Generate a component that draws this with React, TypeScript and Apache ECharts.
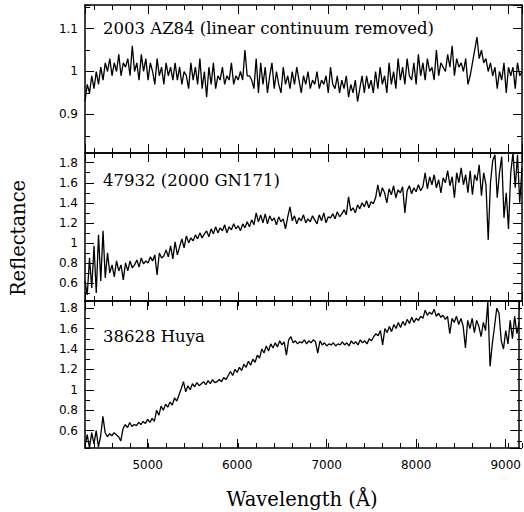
import React, { useEffect, useRef } from "react";
import * as echarts from "echarts";

// Wavelength grid (Å): first sample and spacing
const WL_START = 4300;
const WL_STEP = 25;
const X_MIN = 4300;
const X_MAX = 9150;

// 2003 AZ84 (linear continuum removed)
const az84 = [
  0.93, 0.97, 0.95, 0.99, 0.96, 1.00, 0.97, 1.01, 0.98, 1.02,
  1.00, 1.03, 0.99, 1.02, 1.00, 1.04, 0.99, 1.02, 1.01, 1.03,
  0.99, 1.06, 1.00, 1.02, 0.98, 1.04, 1.00, 1.03, 0.98, 1.02,
  1.00, 0.97, 1.03, 0.99, 1.01, 0.97, 1.02, 0.99, 1.01, 0.98,
  1.02, 0.98, 1.01, 0.97, 1.00, 0.99, 0.96, 1.02, 0.98, 1.01,
  0.97, 1.03, 0.96, 1.00, 0.94, 1.01, 0.97, 1.02, 0.96, 0.99,
  0.98, 1.01, 0.97, 0.99, 0.98, 1.02, 0.97, 0.99, 0.98, 1.00,
  0.98, 1.05, 0.99, 0.99, 0.98, 0.96, 1.03, 0.95, 1.02, 0.97,
  1.01, 0.95, 0.99, 1.02, 0.96, 1.00, 0.97, 0.95, 1.01, 0.97,
  0.99, 0.96, 1.00, 0.97, 1.01, 0.98, 0.95, 0.99, 0.97, 1.00,
  0.96, 0.98, 0.97, 1.00, 0.96, 0.98, 0.97, 0.99, 0.95, 1.01,
  0.97, 0.96, 0.99, 0.95, 0.98, 0.96, 0.99, 0.94, 0.97, 0.95,
  0.98, 0.93, 0.96, 0.99, 0.95, 0.99, 0.96, 0.98, 0.95, 1.00,
  0.96, 1.01, 0.97, 0.99, 0.95, 1.02, 0.97, 1.00, 0.96, 1.03,
  0.98, 1.01, 0.97, 1.03, 0.99, 0.98, 1.02, 0.97, 1.04, 0.99,
  1.02, 0.98, 1.03, 1.00, 1.01, 0.98, 1.05, 0.99, 1.02, 1.01,
  1.00, 1.04, 1.01, 1.06, 0.99, 1.03, 1.01, 1.02, 1.00, 1.03,
  0.97, 0.99, 1.02, 1.05, 1.08, 1.03, 1.05, 1.02, 1.03, 1.00,
  1.02, 0.99, 1.01, 0.96, 1.00, 0.98, 1.02, 0.95, 1.01, 0.99,
  1.01, 0.96, 1.02, 0.99, 1.00,
];

// 47932 (2000 GN171)
const gn171 = [
  0.62, 0.48, 0.85, 0.55, 0.97, 0.50, 1.08, 0.62, 1.12, 0.65,
  0.90, 0.70, 0.78, 0.66, 0.82, 0.72, 0.78, 0.63, 0.80, 0.72,
  0.82, 0.75, 0.78, 0.83, 0.76, 0.85, 0.79, 0.82, 0.80, 0.86,
  0.82, 0.88, 0.68, 0.90, 0.85, 0.87, 0.93, 0.86, 0.97, 0.84,
  1.01, 0.88, 0.96, 1.04, 0.95, 1.07, 1.00, 1.05, 1.02, 1.08,
  1.04, 1.10, 1.05, 1.09, 1.12, 1.06, 1.14, 1.09, 1.16, 1.10,
  1.15, 1.12, 1.18, 1.10, 1.16, 1.13, 1.19, 1.14, 1.17, 1.12,
  1.19, 1.15, 1.21, 1.16, 1.23, 1.18, 1.30, 1.21, 1.28, 1.20,
  1.29, 1.19, 1.27, 1.22, 1.25, 1.18, 1.26, 1.21, 1.24, 1.14,
  1.26, 1.36, 1.22, 1.27, 1.19, 1.25, 1.22, 1.28, 1.20, 1.24,
  1.21, 1.27, 1.23, 1.19, 1.28, 1.22, 1.30, 1.20, 1.26, 1.25,
  1.29, 1.24, 1.31, 1.26, 1.29, 1.33, 1.28, 1.46, 1.32, 1.35,
  1.30, 1.38, 1.34, 1.40, 1.36, 1.42, 1.35, 1.41, 1.39, 1.45,
  1.58, 1.46, 1.55, 1.50, 1.40, 1.54, 1.48, 1.57, 1.45, 1.53,
  1.50, 1.56, 1.30, 1.52, 1.57, 1.49, 1.55, 1.51, 1.58, 1.52,
  1.56, 1.70, 1.54, 1.66, 1.58, 1.68, 1.55, 1.63, 1.50, 1.65,
  1.60, 1.72, 1.57, 1.66, 1.45, 1.70, 1.60, 1.75, 1.58, 1.68,
  1.50, 1.72, 1.48, 1.68, 1.62, 1.78, 1.47, 1.70, 1.58, 1.03,
  1.60, 1.82, 1.88, 1.45, 1.70, 1.86, 1.25, 1.50, 1.14, 1.70,
  1.90, 1.55, 1.88, 1.40, 1.75,
];

// 38628 Huya
const huya = [
  0.45, 0.56, 0.43, 0.58, 0.47, 0.60, 0.44, 0.55, 0.74, 0.58,
  0.54, 0.57, 0.55, 0.58, 0.56, 0.54, 0.50, 0.62, 0.66, 0.63,
  0.68, 0.64, 0.66, 0.65, 0.68, 0.66, 0.69, 0.67, 0.71, 0.68,
  0.72, 0.69, 0.80, 0.75, 0.84, 0.80, 0.86, 0.83, 0.88, 0.85,
  0.92, 0.89, 0.95, 1.01, 1.08, 0.98, 1.04, 1.00, 1.06, 1.03,
  1.07, 1.04, 1.06, 1.08, 1.05, 1.09, 1.06, 1.10, 1.07, 1.08,
  1.10, 1.08, 1.12, 1.10, 1.14, 1.18, 1.14, 1.20, 1.17, 1.22,
  1.19, 1.25, 1.22, 1.28, 1.24, 1.30, 1.27, 1.34, 1.31, 1.40,
  1.36, 1.43, 1.38, 1.45, 1.41, 1.46, 1.42, 1.48, 1.44, 1.47,
  1.34, 1.49, 1.52, 1.46, 1.48, 1.45, 1.47, 1.46, 1.49, 1.45,
  1.48, 1.46, 1.49, 1.47, 1.36, 1.48, 1.44, 1.46, 1.43, 1.45,
  1.44, 1.46, 1.43, 1.45, 1.44, 1.47, 1.44, 1.46, 1.43, 1.48,
  1.45, 1.47, 1.44, 1.49, 1.46, 1.48, 1.45, 1.50, 1.48, 1.52,
  1.55, 1.53, 1.58, 1.44, 1.60, 1.56, 1.62, 1.57, 1.64, 1.60,
  1.66, 1.61, 1.67, 1.63, 1.69, 1.65, 1.71, 1.66, 1.70, 1.68,
  1.72, 1.70, 1.78, 1.73, 1.76, 1.74, 1.79, 1.72, 1.75, 1.71,
  1.73, 1.69, 1.72, 1.55, 1.70, 1.66, 1.72, 1.64, 1.70, 1.62,
  1.41, 1.68, 1.60, 1.70, 1.56, 1.68, 1.62, 1.52, 1.66, 1.58,
  1.86, 1.23, 1.45, 1.62, 1.80, 1.75, 1.48, 1.40, 1.58, 1.45,
  1.68, 1.50, 1.72, 1.55, 1.66,
];

const panelTitles = [
  "2003 AZ84 (linear continuum removed)",
  "47932 (2000 GN171)",
  "38628 Huya",
];
const panelSeries = [az84, gn171, huya];
const yMins = [0.81, 0.42, 0.43];
const yMaxs = [1.155, 1.897, 1.87];
// split counts that make ECharts pick major / minor steps (0.1/0.05, 0.2/0.1, 0.2/0.1)
const yMajorSplit = [3, 7, 7];
const yMinorSplit = [7, 15, 14];
const xMajorSplit = 5; // -> 1000 Å
const xMinorSplit = 24; // -> 200 Å

const xAxisLabel = "Wavelength (Å)";
const yAxisLabel = "Reflectance";

const GRID_LEFT = 85;
const GRID_WIDTH = 437;
const panelTops = [5, 153, 301];
const panelHeights = [148, 148, 147];

export default function App() {
  const ref = useRef<HTMLDivElement>(null);

  useEffect(() => {
    if (!ref.current) return;
    const chart = echarts.init(ref.current, null, { renderer: "svg" });

    const grids: any[] = [];
    const xAxes: any[] = [];
    const yAxes: any[] = [];
    const series: any[] = [];
    const lineStyle = { color: "#000", width: 1.5 };
    const labelFont = { fontFamily: "DejaVu Sans", fontSize: 12, color: "#000" };

    // major grids 0..2, minor grids 3..5 (same rectangles)
    for (let k = 0; k < 2; k++) {
      for (let g = 0; g < 3; g++) {
        grids.push({
          left: GRID_LEFT,
          width: GRID_WIDTH,
          top: panelTops[g],
          height: panelHeights[g],
          containLabel: false,
        });
      }
    }

    for (let k = 0; k < 2; k++) {
      const major = k === 0;
      for (let g = 0; g < 3; g++) {
        const gi = k * 3 + g;
        const tickLen = major ? 9 : 5;
        ["bottom", "top"].forEach((pos) => {
          xAxes.push({
            type: "value",
            gridIndex: gi,
            position: pos,
            min: X_MIN,
            max: X_MAX,
            splitNumber: major ? xMajorSplit : xMinorSplit,
            axisLine: { show: major, onZero: false, lineStyle },
            axisTick: { show: true, inside: true, length: tickLen, lineStyle: { color: "#000", width: 1 } },
            axisLabel: {
              show: major && g === 2 && pos === "bottom",
              showMinLabel: false,
              showMaxLabel: false,
              margin: 11,
              formatter: (v: number) => String(Math.round(v)),
              ...labelFont,
            },
            splitLine: { show: false },
          });
        });
        ["left", "right"].forEach((pos) => {
          yAxes.push({
            type: "value",
            gridIndex: gi,
            position: pos,
            min: yMins[g],
            max: yMaxs[g],
            splitNumber: major ? yMajorSplit[g] : yMinorSplit[g],
            axisLine: { show: major, onZero: false, lineStyle },
            axisTick: { show: true, inside: true, length: tickLen, lineStyle: { color: "#000", width: 1 } },
            axisLabel: {
              show: major && pos === "left",
              showMinLabel: false,
              showMaxLabel: false,
              margin: 7,
              formatter: (v: number) => String(Math.round(v * 10) / 10),
              ...labelFont,
            },
            splitLine: { show: false },
          });
        });
      }
    }

    panelSeries.forEach((vals, g) => {
      series.push({
        type: "line",
        xAxisIndex: g * 2,
        yAxisIndex: g * 2,
        data: vals.map((v, i) => [WL_START + i * WL_STEP, v]),
        showSymbol: false,
        symbol: "none",
        clip: true,
        lineStyle: { color: "#000", width: 1.3 },
        silent: true,
      });
    });

    const titleYs = [28, 180, 336];
    const graphic: any[] = panelTitles.map((t, g) => ({
      type: "text",
      x: 103,
      y: titleYs[g],
      style: {
        text: t,
        font: '16.5px "DejaVu Serif"',
        fill: "#000",
        align: "left",
        verticalAlign: "middle",
      },
      z: 10,
    }));
    graphic.push({
      type: "text",
      x: 302,
      y: 499,
      style: {
        text: xAxisLabel,
        font: '19.5px "DejaVu Serif"',
        fill: "#000",
        align: "center",
        verticalAlign: "middle",
      },
    });
    graphic.push({
      type: "text",
      x: 18,
      y: 238,
      rotation: Math.PI / 2,
      style: {
        text: yAxisLabel,
        font: '19.5px "DejaVu Serif"',
        fill: "#000",
        align: "center",
        verticalAlign: "middle",
      },
    });

    chart.setOption({
      animation: false,
      backgroundColor: "#fff",
      grid: grids,
      xAxis: xAxes,
      yAxis: yAxes,
      series,
      graphic,
    });

    return () => chart.dispose();
  }, []);

  return (
    <div
      ref={ref}
      style={{ position: "fixed", left: 0, top: 0, width: 524, height: 512 }}
    />
  );
}
